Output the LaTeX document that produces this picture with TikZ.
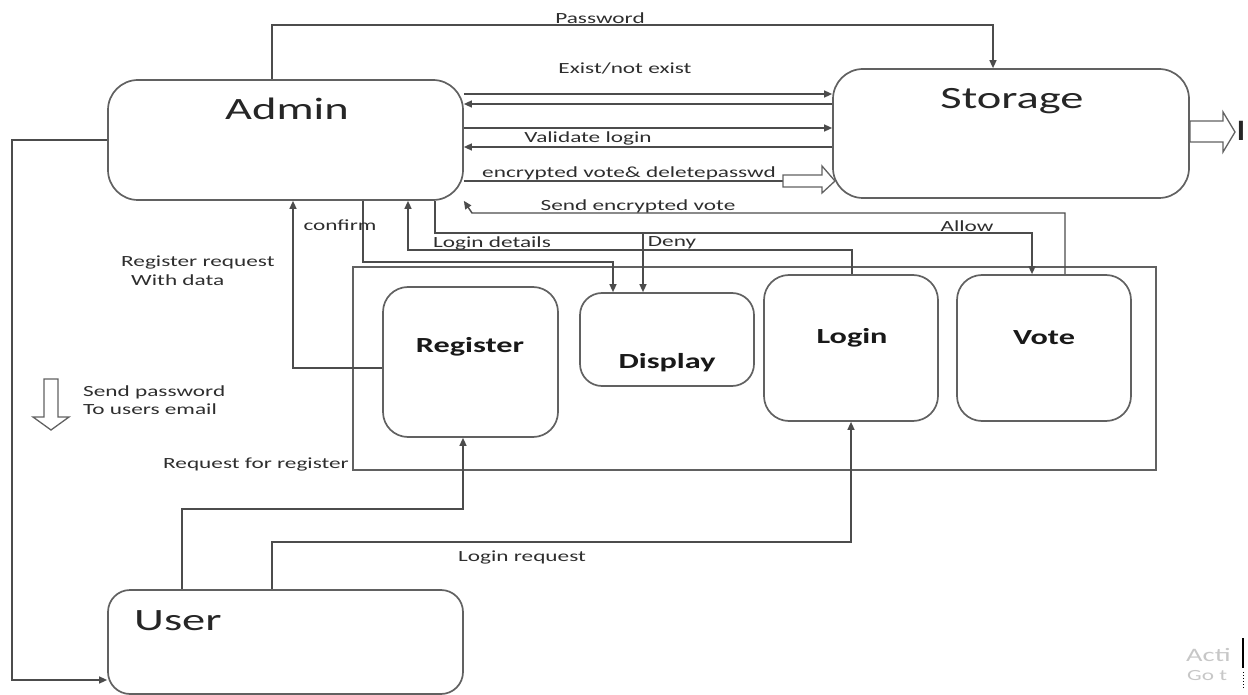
\documentclass[tikz,border=0pt]{standalone}
\usepackage{fontspec}
\newfontfamily\lab[FakeStretch=1.5]{Carlito}
\usetikzlibrary{arrows.meta}
\begin{document}
\begin{tikzpicture}[x=1pt,y=-1pt,
  box/.style={draw=black!62, line width=1.7pt, rounded corners=#1, inner sep=0pt, fill=white},
  box/.default=26pt,
  ln/.style={draw=black!70, line width=1.4pt},
  arr/.style={ln, -{Triangle[length=8pt,width=7pt]}},
  hollow/.style={draw=black!62, line width=1.3pt, fill=white, line join=miter},
  sm/.style={font=\lab\fontsize{15.5}{17}\selectfont, text=black!82, inner sep=0pt},
  big/.style={font=\lab\fontsize{31}{34}\selectfont, text=black!85, inner sep=0pt},
  bd/.style={font=\lab\bfseries\fontsize{21.5}{24}\selectfont, text=black!90, inner sep=0pt}
]
\useasboundingbox (0,0) rectangle (1248,695);

% panel containing the modules
\node[draw=black!62, line width=1.5pt, minimum width=803pt, minimum height=203pt, inner sep=0pt] (panel) at (754.5,368.5) {};

% boxes
\node[box=30pt, minimum width=355pt, minimum height=120pt] (admin) at (285.5,140) {};
\node[box=30pt, minimum width=356pt, minimum height=129pt] (storage) at (1011,133.5) {};
\node[box=25pt, minimum width=175pt, minimum height=150pt] (register) at (470.5,362) {};
\node[box=22pt, minimum width=174pt, minimum height=93pt] (display) at (667,339.5) {};
\node[box=25pt, minimum width=174pt, minimum height=146pt] (login) at (851,348) {};
\node[box=25pt, minimum width=174pt, minimum height=146pt] (vote) at (1044,348) {};
\node[box=22pt, minimum width=355pt, minimum height=104pt] (user) at (285.5,642) {};

% box texts
\node[big] (admint) at (287,109) {Admin};
\node[big] (storaget) at (1012,101) {Storage};
\node[big, anchor=west] (usert) at (134,621) {User};
\node[bd] (registert) at (470,347) {Register};
\node[bd] (displayt) at (667,363) {Display};
\node[bd] (logint) at (852,338) {Login};
\node[bd] (votet) at (1044,338) {Vote};

% waypoints
\coordinate (pwA) at (272,25);  \coordinate (pwB) at (993,25);
\coordinate (e1) at (650,94);   \coordinate (e2) at (650,104);
\coordinate (e3) at (650,128);  \coordinate (e4) at (650,147);
\coordinate (ev) at (783,181);
\coordinate (lt) at (12,140);   \coordinate (lb) at (12,680);
\coordinate (sv1) at (1065,213); \coordinate (sv2) at (472,213);
\coordinate (al1) at (435,233); \coordinate (al2) at (1032,233);
\coordinate (dn) at (643,233);
\coordinate (ld1) at (852,250); \coordinate (ld2) at (408,250);
\coordinate (ad1) at (363,262); \coordinate (ad2) at (613,262);
\coordinate (cf) at (293,368);
\coordinate (rr1) at (182,509); \coordinate (rr2) at (463,509);
\coordinate (lr1) at (272,542); \coordinate (lr2) at (851,542);

% connectors
\draw[arr] (admin.north -| pwA) -- (pwA) -- (pwB) -- (storage.north -| pwB);
\draw[arr] (admin.east |- e1) -- (storage.west |- e1);
\draw[arr] (storage.west |- e2) -- (admin.east |- e2);
\draw[arr] (admin.east |- e3) -- (storage.west |- e3);
\draw[arr] (storage.west |- e4) -- (admin.east |- e4);
\draw[ln] (admin.east |- ev) -- (ev);
\draw[hollow] (783,175) -- (822,175) -- (822,166) -- (835,181) -- (822,193) -- (822,187) -- (783,187) -- cycle;
\draw[hollow] (storage.east |- 0,121) -- (1223,121) -- (1223,112) -- (1235,132) -- (1223,152) -- (1223,142) -- (storage.east |- 0,142) -- cycle;
\draw[arr] (admin.west |- lt) -- (lt) -- (lb) -- (user.west |- lb);
\draw[arr] (vote.north -| sv1) -- (sv1) -- (sv2) -- (admin.south east);
\draw[arr] (admin.south -| al1) -- (al1) -- (al2) -- (vote.north -| al2);
\draw[arr] (dn) -- (display.north -| dn);
\draw[arr] (login.north -| ld1) -- (ld1) -- (ld2) -- (admin.south -| ld2);
\draw[arr] (admin.south -| ad1) -- (ad1) -- (ad2) -- (display.north -| ad2);
\draw[arr] (register.west |- cf) -- (cf) -- (admin.south -| cf);
\draw[arr] (user.north -| rr1) -- (rr1) -- (rr2) -- (register.south -| rr2);
\draw[arr] (user.north -| lr1) -- (lr1) -- (lr2) -- (login.south -| lr2);
\draw[hollow] (44,379) -- (58,379) -- (58,417) -- (69,417) -- (51,430) -- (33,417) -- (44,417) -- cycle;

% labels
\node[sm] (lpw) at (600,18) {Password};
\node[sm] (lex) at (625,68) {Exist/not exist};
\node[sm] (lvl) at (588,138) {Validate login};
\node[sm] (lev) at (629,173) {encrypted vote\& deletepasswd};
\node[sm] (lsv) at (638,206) {Send encrypted vote};
\node[sm] (lcf) at (340,225) {confirm};
\node[sm] (lld) at (492,243) {Login details};
\node[sm] (ldn) at (672,243) {Deny};
\node[sm] (lal) at (967,226) {Allow};
\node[sm, anchor=west] (lrq1) at (121,262) {Register request};
\node[sm, anchor=west] (lrq2) at (131,280) {With data};
\node[sm, anchor=west] (lsp1) at (83,392) {Send password};
\node[sm, anchor=west] (lsp2) at (83,409) {To users email};
\node[sm, anchor=east] (lrr) at (349,464) {Request for register};
\node[sm] (llr) at (522,557) {Login request};
\node[sm, font=\lab\fontsize{30}{32}\selectfont, text=black!85] (lbar) at (1241,131) {I};

% watermark remnant
\node[sm, anchor=west, text=black!22, font=\lab\fontsize{19}{21}\selectfont] (wm1) at (1186,655) {Acti};
\node[sm, anchor=west, text=black!22] (wm2) at (1187,676) {Go t};
\draw[black, line width=1.5pt] (1243,638) -- (1243,668);
\draw[black, line width=1pt, dotted] (1243,672) -- (1243,690);
\end{tikzpicture}
\end{document}
